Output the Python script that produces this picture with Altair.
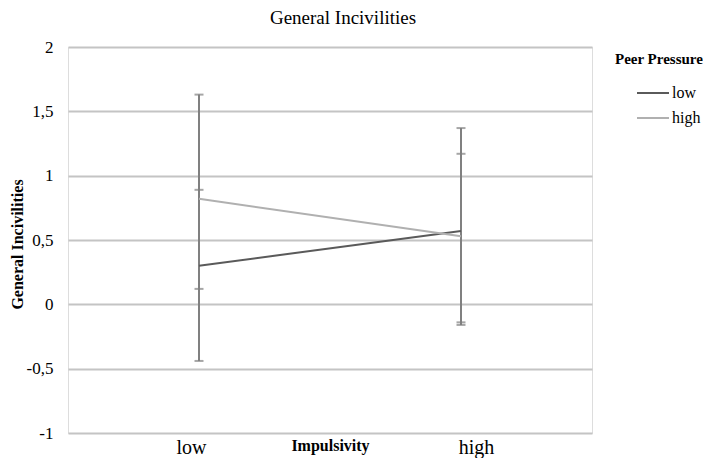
import altair as alt
import pandas as pd

impulsivity = ["low", "high"]
pressure_levels = ["low", "high"]

# means per pressure level at each impulsivity level
mean_low_pressure = [0.30, 0.57]
mean_high_pressure = [0.82, 0.53]

# error bar extents
err_low_lo = [-0.44, -0.16]
err_low_hi = [0.89, 1.37]
err_high_lo = [0.12, -0.14]
err_high_hi = [1.63, 1.17]

y_ticks = [-1, -0.5, 0, 0.5, 1, 1.5, 2]

rows = []
for i, imp in enumerate(impulsivity):
    rows.append({"Impulsivity": imp, "Pressure": "low", "mean": mean_low_pressure[i],
                 "lo": err_low_lo[i], "hi": err_low_hi[i]})
    rows.append({"Impulsivity": imp, "Pressure": "high", "mean": mean_high_pressure[i],
                 "lo": err_high_lo[i], "hi": err_high_hi[i]})
df = pd.DataFrame(rows)

SERIF = "Liberation Serif"

xscale = alt.Scale(type="point", domain=impulsivity, padding=0.5)
yscale = alt.Scale(domain=[-1, 2], nice=False, zero=False)

x_enc = alt.X("Impulsivity:N", scale=xscale, sort=impulsivity,
              axis=alt.Axis(title="Impulsivity", labelAngle=0, ticks=False, domain=False,
                            grid=False, labelFont=SERIF, labelFontSize=20, labelColor="#000",
                            labelPadding=4,
                            labelOffset={"condition": {"test": "datum.value == 'low'", "value": -8}, "value": 15},
                            titleFont=SERIF, titleFontSize=16, titleFontWeight="bold",
                            titleColor="#000", titleX=262, titleY=12,
                            titleBaseline="middle", titleAlign="center"))

base = alt.Chart(df)

bars = base.mark_rule(color="#808080", strokeWidth=2).encode(
    x=x_enc,
    y=alt.Y("lo:Q", scale=yscale),
    y2="hi:Q",
)
caps_lo = base.mark_tick(color="#808080", orient="horizontal", size=9, thickness=2).encode(
    x=alt.X("Impulsivity:N", scale=xscale, sort=impulsivity),
    y=alt.Y("lo:Q", scale=yscale),
)
caps_hi = base.mark_tick(color="#808080", orient="horizontal", size=9, thickness=2).encode(
    x=alt.X("Impulsivity:N", scale=xscale, sort=impulsivity),
    y=alt.Y("hi:Q", scale=yscale),
)

lines = base.mark_line(strokeWidth=2).encode(
    x=alt.X("Impulsivity:N", scale=xscale, sort=impulsivity),
    y=alt.Y("mean:Q", scale=yscale,
            axis=alt.Axis(title="General Incivilities", values=y_ticks,
                          labelExpr="(datum.value < 0 ? '-' : '') + replace(toString(abs(datum.value)), '.', ',')",
                          ticks=False, domain=False, gridColor="#c4c4c4", gridWidth=2,
                          labelFont=SERIF, labelFontSize=17, labelColor="#000", labelPadding=15,
                          titleFont=SERIF, titleFontSize=16, titleFontWeight="bold",
                          titleColor="#000", titleX=-51, titleY=197,
                          titleAlign="center", titleBaseline="middle")),
    color=alt.Color("Pressure:N",
                    scale=alt.Scale(domain=pressure_levels, range=["#5a5a5a", "#b0b0b0"]),
                    sort=pressure_levels,
                    legend=alt.Legend(title="Peer Pressure", orient="none", legendX=547, legendY=5,
                                      symbolType="stroke", symbolSize=1024, symbolStrokeWidth=2,
                                      symbolOffset=21, labelOffset=2,
                                      titleFont=SERIF, titleFontSize=15, titleFontWeight="bold",
                                      titleColor="#000", titlePadding=16,
                                      labelFont=SERIF, labelFontSize=16, labelColor="#000",
                                      clipHeight=20, rowPadding=5)),
    order=alt.Order("Impulsivity:N"),
    detail="Pressure:N",
)

chart = alt.layer(bars, caps_lo, caps_hi, lines).properties(
    width=524, height=386,
    title=alt.Title("General Incivilities", font=SERIF, fontSize=19, fontWeight="normal",
                    color="#000", anchor="middle", dx=13, offset=10),
    autosize=alt.AutoSizeParams(type="none"),
    padding={"left": 60, "top": 39, "right": 111, "bottom": 25},
).configure_view(stroke=None).configure(background="white")

chart.save("out.html", embed_options={"renderer": "svg", "actions": False})
